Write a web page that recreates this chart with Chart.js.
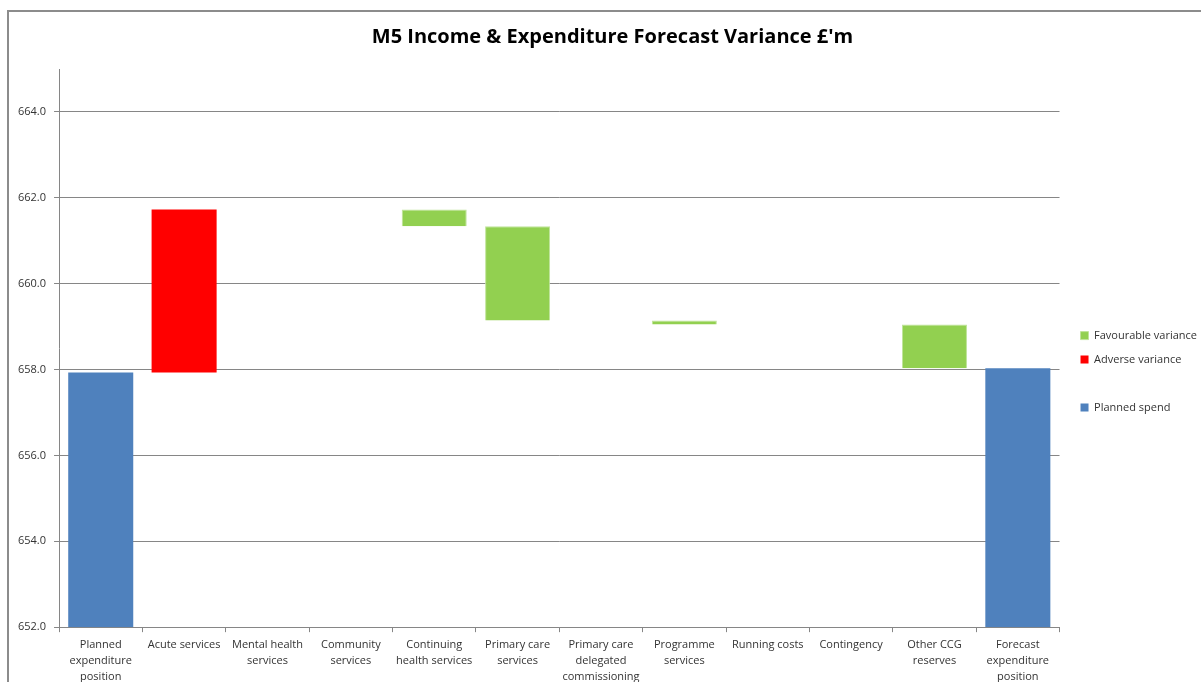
<!DOCTYPE html>
<html>
<head>
<meta charset="utf-8">
<script src="https://cdn.jsdelivr.net/npm/chart.js@4/dist/chart.umd.min.js"></script>
<style>
  html, body { margin: 0; padding: 0; background: #fff; overflow: hidden; }
  #frame {
    position: absolute; left: 7px; top: 10px; width: 1400px; height: 900px;
    border-left: 2px solid #8c8c8c; border-top: 2px solid #8c8c8c;
  }
  #wrap { position: absolute; left: 0; top: 0; width: 1201px; height: 682px; }
</style>
</head>
<body>
<div id="frame"></div>
<div id="wrap"><canvas id="grafico"></canvas></div>
<script>
// categorias del eje x
const categories = [
  ["Planned", "expenditure", "position"],
  "Acute services",
  ["Mental health", "services"],
  ["Community", "services"],
  ["Continuing", "health services"],
  ["Primary care", "services"],
  ["Primary care", "delegated", "commissioning"],
  ["Programme", "services"],
  "Running costs",
  "Contingency",
  ["Other CCG", "reserves"],
  ["Forecast", "expenditure", "position"]
];

// posicion inicial y variaciones (£'m)
const plannedSpend = 657.93;
const variances = [null, 3.80, 0, 0, -0.39, -2.20, 0, -0.09, 0, 0, -1.02, null];

const yTicks = [652, 654, 656, 658, 660, 662, 664];
const yMin = 652;
const yMax = 665;

// construir los rangos flotantes del waterfall
const favourable = [];
const adverse = [];
const planned = [];
let running = plannedSpend;
categories.forEach((c, i) => {
  if (i === 0) {
    planned.push([yMin, plannedSpend]);
    favourable.push(null);
    adverse.push(null);
  } else if (i === categories.length - 1) {
    planned.push([yMin, running]);
    favourable.push(null);
    adverse.push(null);
  } else {
    const v = variances[i];
    const next = running + v;
    planned.push(null);
    if (v > 0) {
      adverse.push([running, next]);
      favourable.push(null);
    } else if (v < 0) {
      favourable.push([next, running]);
      adverse.push(null);
    } else {
      favourable.push(null);
      adverse.push(null);
    }
    running = next;
  }
});

const gris = "#868686";
const fuente = "'Open Sans', sans-serif";

// mueve leyenda y titulo un poco a la derecha, como en el original
const ajuste = {
  id: "ajuste",
  afterLayout(chart) {
    chart.legend.left += 8;
    chart.legend.right += 8;
    chart.titleBlock.left += 8;
    chart.titleBlock.right += 8;
  }
};

new Chart(document.getElementById("grafico"), {
  type: "bar",
  data: {
    labels: categories,
    datasets: [
      { label: "Favourable variance", data: favourable, backgroundColor: "#92D050", borderColor: "#bfe49a", borderWidth: 1 },
      { label: "Adverse variance", data: adverse, backgroundColor: "#FF0000" },
      { label: " ", data: categories.map(() => null), backgroundColor: "rgba(0,0,0,0)" },
      { label: "Planned spend", data: planned, backgroundColor: "#4F81BD" }
    ]
  },
  plugins: [ajuste],
  options: {
    responsive: true,
    maintainAspectRatio: false,
    animation: false,
    layout: { padding: { left: 10, right: 2, top: 15, bottom: -8 } },
    datasets: { bar: { barPercentage: 1, categoryPercentage: 0.78 } },
    plugins: {
      title: {
        display: true,
        text: "M5 Income & Expenditure Forecast Variance £'m",
        color: "#000",
        font: { family: fuente, size: 20, weight: "bold" },
        padding: { top: 10, bottom: 20 }
      },
      legend: {
        position: "right",
        title: { display: true, text: " ", font: { size: 11 }, padding: { top: 12, bottom: 13 } },
        labels: {
          boxWidth: 8, boxHeight: 8, padding: 13,
          color: "#333",
          font: { family: fuente, size: 11 }
        }
      },
      tooltip: { enabled: false }
    },
    scales: {
      x: {
        stacked: true,
        grid: { drawOnChartArea: false, color: gris, tickLength: 5 },
        border: { color: gris },
        ticks: { autoSkip: false, maxRotation: 0, color: "#333", font: { family: fuente, size: 11, lineHeight: 1.45 }, padding: 5 }
      },
      y: {
        min: yMin,
        max: yMax,
        grid: { color: gris, tickLength: 5 },
        border: { color: gris },
        afterBuildTicks: (axis) => { axis.ticks = yTicks.map((v) => ({ value: v })); },
        ticks: {
          color: "#333",
          padding: 8,
          font: { family: fuente, size: 11 },
          callback: (v) => Number(v).toFixed(1)
        }
      }
    }
  }
});
</script>
</body>
</html>
